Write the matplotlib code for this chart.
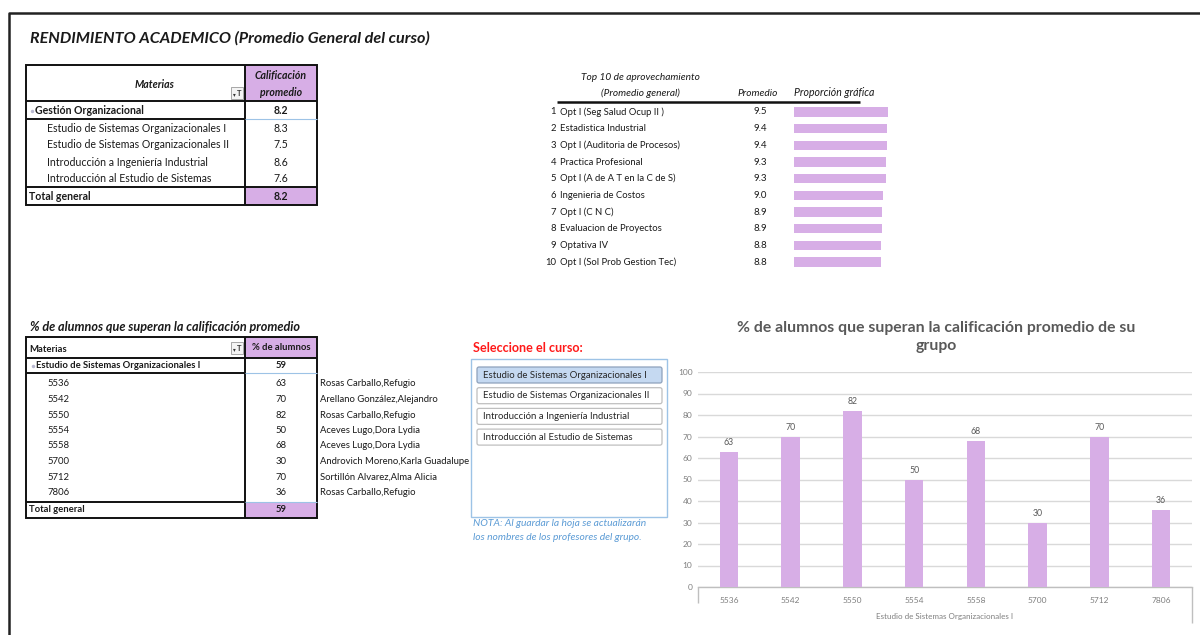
import matplotlib
matplotlib.use("Agg")
import matplotlib.pyplot as plt
from matplotlib.patches import Rectangle, FancyBboxPatch
import numpy as np

plt.rcParams['font.family'] = ['Lato', 'DejaVu Sans']

# ---------------- data ----------------
titulo = "RENDIMIENTO ACADEMICO (Promedio General del curso)"
grupo_materia = "Gestión Organizacional"
grupo_promedio = 8.2
materias = ["Estudio de Sistemas Organizacionales I",
            "Estudio de Sistemas Organizacionales II",
            "Introducción a Ingeniería Industrial",
            "Introducción al Estudio de Sistemas"]
calificaciones = [8.3, 7.5, 8.6, 7.6]
total_calif = 8.2

top10_materias = ["Opt I (Seg Salud Ocup II )", "Estadistica Industrial",
                  "Opt I (Auditoria de Procesos)", "Practica Profesional",
                  "Opt I (A de A T en la C de S)", "Ingenieria de Costos",
                  "Opt I (C N C)", "Evaluacion de Proyectos", "Optativa IV",
                  "Opt I (Sol Prob Gestion Tec)"]
top10_promedios = [9.5, 9.4, 9.4, 9.3, 9.3, 9.0, 8.9, 8.9, 8.8, 8.8]

curso_sel = "Estudio de Sistemas Organizacionales I"
grupos = ["5536", "5542", "5550", "5554", "5558", "5700", "5712", "7806"]
pct_alumnos = [63, 70, 82, 50, 68, 30, 70, 36]
profesores = ["Rosas Carballo,Refugio", "Arellano González,Alejandro",
              "Rosas Carballo,Refugio", "Aceves Lugo,Dora Lydia",
              "Aceves Lugo,Dora Lydia", "Androvich Moreno,Karla Guadalupe",
              "Sortillón Alvarez,Alma Alicia", "Rosas Carballo,Refugio"]
pct_total = 59
cursos = ["Estudio de Sistemas Organizacionales I",
          "Estudio de Sistemas Organizacionales II",
          "Introducción a Ingeniería Industrial",
          "Introducción al Estudio de Sistemas"]

# ---------------- style ----------------
PURPLE = '#D7AEE6'
LBLUE = '#9DC3E6'
TXT = '#1a1a1a'
GRAY = '#595959'
FS1 = 7.6    # table 1
FS2 = 6.8    # table 2
FST = 6.8    # top 10

fig = plt.figure(figsize=(12, 6.35), dpi=100)
bg = fig.add_axes([0, 0, 1, 1])
bg.set_xlim(0, 1200)
bg.set_ylim(635, 0)
bg.axis('off')


def hline(x0, x1, y, lw=1.4, color='#111111'):
    bg.plot([x0, x1], [y, y], color=color, lw=lw, solid_capstyle='butt')


def vline(x, y0, y1, lw=1.4, color='#111111'):
    bg.plot([x, x], [y0, y1], color=color, lw=lw, solid_capstyle='butt')


def box(x, y, w, h, fc='none', ec='none', lw=1.4):
    bg.add_patch(Rectangle((x, y), w, h, facecolor=fc, edgecolor=ec, lw=lw))


def filtro(x, y):
    box(x, y, 12, 12, fc='#f4f4f4', ec='#9a9a9a', lw=0.6)
    bg.text(x + 3.5, y + 7.5, '▾', fontsize=4, ha='center', va='center', color='#333')
    bg.text(x + 8, y + 6.5, 'T', fontsize=5.5, ha='center', va='center', color='#333',
            fontweight='bold')


# frame
bg.plot([9, 9, 1200], [635, 13, 13], color='#222222', lw=1.8)

# title
bg.text(30, 38, titulo, fontsize=11.6, fontweight='bold', fontstyle='italic',
        color=TXT, va='center', ha='left')

# ---------------- table 1 ----------------
L, M, R = 26, 245, 317
box(M, 65, R - M, 36, fc=PURPLE)
box(M, 187, R - M, 18, fc=PURPLE)
box(L, 65, R - L, 140, ec='#111111', lw=1.4)
vline(M, 65, 205)
hline(L, R, 101)
hline(L, M, 119)
hline(M, R, 119, lw=0.8, color=LBLUE)
hline(L, R, 187)
bg.text(155, 84, "Materias", fontsize=FS1, fontweight='bold', fontstyle='italic',
        ha='center', va='center', color=TXT)
filtro(231, 87)
bg.text(281, 76, "Calificación", fontsize=FS1, fontweight='bold', fontstyle='italic',
        ha='center', va='center', color=TXT)
bg.text(281, 92, "promedio", fontsize=FS1, fontweight='bold', fontstyle='italic',
        ha='center', va='center', color=TXT)
bg.plot([31.5], [111], marker='o', ms=2.5, color='#b8b8d0', mec='none')
bg.text(35, 111, grupo_materia, fontsize=FS1, fontweight='bold', ha='left', va='center', color=TXT)
bg.text(281, 111, f"{grupo_promedio:.1f}", fontsize=FS1, fontweight='bold', ha='center',
        va='center', color=TXT)
row_y1 = [128, 145, 162, 179]
for yy, nom, val in zip(row_y1, materias, calificaciones):
    bg.text(47, yy, nom, fontsize=FS1, ha='left', va='center', color=TXT)
    bg.text(281, yy, f"{val:.1f}", fontsize=FS1, ha='center', va='center', color=TXT)
bg.text(29, 197, "Total general", fontsize=FS1, fontweight='bold', ha='left', va='center', color=TXT)
bg.text(281, 197, f"{total_calif:.1f}", fontsize=FS1, fontweight='bold', ha='center',
        va='center', color=TXT)

# ---------------- top 10 ----------------
bg.text(640, 77, "Top 10 de aprovechamiento", fontsize=7.3, fontstyle='italic',
        ha='center', va='center', color=TXT)
bg.text(640, 93, "(Promedio general)", fontsize=7.3, fontstyle='italic',
        ha='center', va='center', color=TXT)
bg.text(758, 93, "Promedio", fontsize=7.3, fontstyle='italic', ha='center', va='center', color=TXT)
bg.text(794, 93, "Proporción gráfica", fontsize=7.6, fontstyle='italic', ha='left',
        va='center', color=TXT)
hline(557, 860, 102, lw=1.8)
ROW0, DROW = 112, 16.67
for i, (nom, val) in enumerate(zip(top10_materias, top10_promedios)):
    yy = ROW0 + i * DROW
    bg.text(556, yy, str(i + 1), fontsize=FST, ha='right', va='center', color=TXT)
    bg.text(560, yy, nom, fontsize=FST, ha='left', va='center', color=TXT)
    bg.text(760, yy, f"{val:.1f}", fontsize=7, ha='center', va='center', color=TXT)

axt = fig.add_axes([794 / 1200, (635 - (ROW0 + 9.5 * DROW)) / 635, 100 / 1200, 10 * DROW / 635])
axt.barh(np.arange(len(top10_promedios)), top10_promedios, height=0.55, color=PURPLE)
axt.set_xlim(0, 100 / 9.9)
axt.set_ylim(len(top10_promedios) - 0.5, -0.5)
axt.axis('off')

# ---------------- table 2 ----------------
bg.text(30, 327, "% de alumnos que superan la calificación promedio", fontsize=9.1,
        fontweight='bold', fontstyle='italic', ha='left', va='center', color=TXT)
box(M, 337, R - M, 21, fc=PURPLE)
box(M, 502, R - M, 16, fc=PURPLE)
box(L, 337, R - L, 181, ec='#111111', lw=1.4)
vline(M, 337, 518)
hline(L, R, 358)
hline(L, M, 373)
hline(M, R, 373, lw=0.8, color=LBLUE)
hline(L, M, 502)
hline(M, R, 502, lw=0.8, color=LBLUE)
bg.text(29, 349, "Materias", fontsize=FS2, fontweight='bold', ha='left', va='center', color=TXT)
filtro(231, 342)
bg.text(281, 348, "% de alumnos", fontsize=FS2, fontweight='bold', ha='center', va='center', color=TXT)
bg.plot([32.5], [366], marker='o', ms=2.5, color='#b8b8d0', mec='none')
bg.text(36, 366, curso_sel, fontsize=FS2, fontweight='bold', ha='left', va='center', color=TXT)
bg.text(281, 366, str(pct_total), fontsize=FS2, fontweight='bold', ha='center', va='center', color=TXT)
for i, (g, p, prof) in enumerate(zip(grupos, pct_alumnos, profesores)):
    yy = 384 + i * 15.5
    bg.text(47, yy, g, fontsize=FS2, ha='left', va='center', color=TXT)
    bg.text(281, yy, str(p), fontsize=FS2, ha='center', va='center', color=TXT)
    bg.text(320, yy, prof, fontsize=FS2, ha='left', va='center', color=TXT)
bg.text(29, 509, "Total general", fontsize=FS2, fontweight='bold', ha='left', va='center', color=TXT)
bg.text(281, 509, str(pct_total), fontsize=FS2, fontweight='bold', ha='center', va='center', color=TXT)

# ---------------- selector ----------------
bg.text(473, 348, "Seleccione el curso:", fontsize=9.1, fontweight='bold', color='#FF1A1A',
        ha='left', va='center')
box(471, 359, 196, 158, fc='white', ec=LBLUE, lw=1.0)
for i, c in enumerate(cursos):
    y0 = 367 + i * 20.7
    sel = (c == curso_sel)
    bg.add_patch(FancyBboxPatch((477, y0), 185, 16, boxstyle="round,pad=0,rounding_size=2",
                                facecolor='#C5D9F1' if sel else 'white',
                                edgecolor='#8EA2BC' if sel else '#BFBFBF', lw=0.9))
    bg.text(483, y0 + 8, c, fontsize=6.9, ha='left', va='center', color='#262626')
bg.text(473, 524, "NOTA: Al guardar la hoja se actualizarán", fontsize=7.4, fontstyle='italic',
        color='#5B9BD5', ha='left', va='center')
bg.text(473, 538, "los nombres de los profesores del grupo.", fontsize=7.4, fontstyle='italic',
        color='#5B9BD5', ha='left', va='center')

# ---------------- bar chart ----------------
bg.text(936, 337, "% de alumnos que superan la calificación promedio de su\ngrupo",
        fontsize=11.35, fontweight='bold', color=GRAY, ha='center', va='center', linespacing=1.4)
AX_L, AX_R, AX_T, AX_B = 698, 1192, 372, 587
ax = fig.add_axes([AX_L / 1200, (635 - AX_B) / 635, (AX_R - AX_L) / 1200, (AX_B - AX_T) / 635])
x = np.arange(len(grupos))
ax.bar(x, pct_alumnos, width=0.3, color=PURPLE, zorder=3)
for xi, v in zip(x, pct_alumnos):
    ax.annotate(str(v), (xi, v), xytext=(0, 3.5), textcoords='offset points',
                ha='center', va='bottom', fontsize=6.3, color=GRAY)
ax.set_xlim(-0.5, len(grupos) - 0.5)
ax.set_ylim(0, 100)
ax.set_yticks(np.arange(0, 101, 10))
ax.set_xticks(x)
ax.set_xticklabels(grupos)
ax.yaxis.grid(True, color='#D9D9D9', lw=1.0, zorder=0)
ax.set_axisbelow(True)
for s in ['top', 'right', 'left']:
    ax.spines[s].set_visible(False)
ax.spines['bottom'].set_color('#BFBFBF')
ax.spines['bottom'].set_linewidth(1.0)
ax.tick_params(axis='both', length=0, labelsize=6, labelcolor='#7F7F7F')
ax.tick_params(axis='x', pad=7)
ax.tick_params(axis='y', pad=4)
ax.set_facecolor('none')
vline(AX_L, AX_B, 603, lw=1.0, color='#BFBFBF')
vline(AX_R, AX_B, 623, lw=1.0, color='#BFBFBF')
bg.text((AX_L + AX_R) / 2, 617, curso_sel, fontsize=5.8, color='#7F7F7F', ha='center', va='center')

fig.savefig("out.png", dpi=100)
